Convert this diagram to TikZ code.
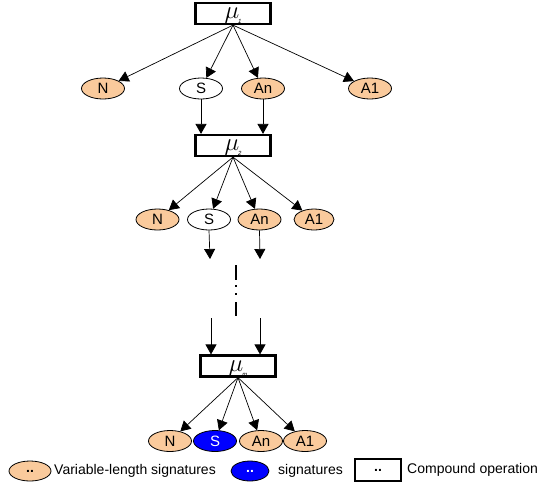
\documentclass[tikz,border=0pt]{standalone}
\usepackage{fontspec}
\setmainfont{Liberation Sans}
\usetikzlibrary{shapes.geometric,arrows.meta}
\definecolor{peach}{RGB}{250,202,156}
\definecolor{sigblue}{RGB}{0,0,255}
\tikzset{
  sig/.style={ellipse,draw=black,line width=0.8pt,fill=peach,minimum width=43pt,minimum height=21pt,inner sep=0pt,font=\fontsize{15}{15}\selectfont},
  plainsig/.style={sig,fill=white},
  bluesig/.style={sig,fill=sigblue,text=white},
  opbox/.style={rectangle,draw=black,line width=2.2pt,fill=white,minimum width=75pt,minimum height=21pt,inner sep=0pt},
  arr/.style={line width=0.7pt,-{Triangle[length=10pt,width=11pt]}},
  lbl/.style={anchor=west,inner sep=0pt,font=\fontsize{14}{14}\selectfont}
}
\newcommand{\mulabel}[1]{\raisebox{-2pt}[9pt][3pt]{{\fontsize{28}{28}\selectfont$\mu$}\kern-1pt\raisebox{-5pt}{\fontsize{6}{6}\selectfont\itshape #1}}}
\begin{document}
\begin{tikzpicture}[x=1pt,y=-1pt]
\useasboundingbox (0,0) rectangle (540,491);
% level 1
\node[opbox] (mu1) at (233,13.5) {\mulabel{1}};
\node[sig] (n1) at (103,88.5) {N};
\node[plainsig] (s1) at (201,88.5) {S};
\node[sig] (a1) at (263,88.5) {An};
\node[sig] (b1) at (370,88.5) {A1};
\foreach \t in {n1,s1,a1,b1} \draw[arr] (mu1.south) -- (\t);
% level 2
\node[opbox] (mu2) at (233,145.5) {\mulabel{2}};
\draw[arr] (s1.south) -- (s1.south |- mu2.north);
\draw[arr] (a1.south) -- (a1.south |- mu2.north);
\node[sig] (n2) at (157.5,219.5) {N};
\node[plainsig] (s2) at (209,219.5) {S};
\node[sig] (a2) at (259.5,219.5) {An};
\node[sig,minimum width=40pt] (b2) at (314,219.5) {A1};
\foreach \t in {n2,s2,a2,b2} \draw[arr] (mu2.south) -- (\t);
% gap
\coordinate (g1) at (210,259);
\coordinate (g2) at (260,259);
\draw[arr] (s2.south) -- (g1);
\draw[arr] (a2.south) -- (g2);
\draw[line width=2pt] (236,265) -- (236,280);
\fill (235,285) rectangle (237,287);
\fill (235,293) rectangle (237,295);
\draw[line width=2pt] (236,302) -- (236,316);
% level m
\node[opbox] (mu3) at (238,366) {\mulabel{m}};
\coordinate (h1) at (211,318);
\coordinate (h2) at (260,318);
\draw[arr] (h1) -- (h1 |- mu3.north);
\draw[arr] (h2) -- (h2 |- mu3.north);
\node[sig] (n3) at (170,441) {N};
\node[bluesig] (s3) at (215,441) {S};
\node[sig] (a3) at (261,441) {An};
\node[sig] (b3) at (305,441) {A1};
\foreach \t in {n3,s3,a3,b3} \draw[arr] (mu3.south) -- (\t);
% legend
\node[sig,minimum width=42pt,minimum height=20pt,font=\fontsize{14}{14}\selectfont\bfseries] (l1) at (30,471) {..};
\node[lbl] (t1) at (54,471) {Variable-length signatures};
\node[bluesig,minimum width=38pt,minimum height=20pt,font=\fontsize{14}{14}\selectfont\bfseries] (l2) at (250,471) {..};
\node[lbl] (t2) at (278,471) {signatures};
\node[opbox,minimum width=46pt,minimum height=22pt,font=\fontsize{14}{14}\selectfont\bfseries] (l3) at (378,470) {..};
\node[lbl] (t3) at (407,470) {Compound operation};
\end{tikzpicture}
\end{document}
